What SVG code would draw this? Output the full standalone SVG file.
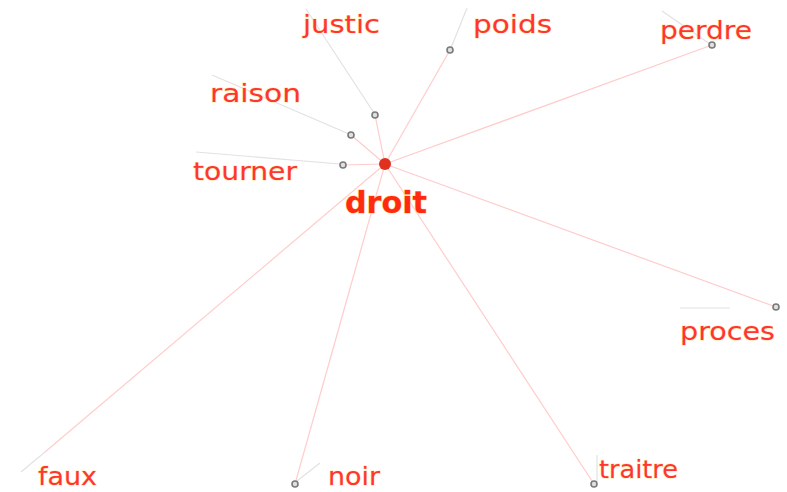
<svg xmlns="http://www.w3.org/2000/svg" width="787" height="492" viewBox="0 0 787 492">
<style>
.bg{fill:#ffffff}
.e{stroke:#ffcccc;stroke-width:1.2;fill:none}
.g{stroke:#e2e2e2;stroke-width:1.2;fill:none}
.n{fill:#e0e0e0;stroke:#7a7a7a;stroke-width:1.6}
.lbl{font-family:"DejaVu Sans","Liberation Sans",sans-serif;font-size:25px;fill:#ff3535;stroke:#ffe6a0;stroke-width:1;paint-order:stroke}
.main{font-family:"DejaVu Sans","Liberation Sans",sans-serif;font-size:30px;font-weight:bold;fill:#ff2a10;stroke:#ffd080;stroke-width:1;paint-order:stroke}
</style>
<rect class="bg" x="0" y="0" width="787" height="492"/>
<g id="connectors">
<line class="e" x1="385" y1="164" x2="375" y2="115"/>
<line class="e" x1="385" y1="164" x2="351" y2="135"/>
<line class="e" x1="385" y1="164" x2="343" y2="165"/>
<line class="e" x1="385" y1="164" x2="450" y2="50"/>
<line class="e" x1="385" y1="164" x2="712" y2="45"/>
<line class="e" x1="385" y1="164" x2="776" y2="307"/>
<line class="e" x1="385" y1="164" x2="45" y2="452"/>
<line class="e" x1="385" y1="164" x2="295" y2="484"/>
<line class="e" x1="385" y1="164" x2="594" y2="484"/>
<line class="g" x1="306" y1="9" x2="374" y2="113"/>
<line class="g" x1="212" y1="75" x2="349" y2="134"/>
<line class="g" x1="196" y1="152" x2="340" y2="164"/>
<line class="g" x1="467" y1="8" x2="451" y2="48"/>
<line class="g" x1="662" y1="11" x2="710" y2="44"/>
<line class="g" x1="680" y1="308" x2="730" y2="308"/>
<line class="g" x1="45" y1="452" x2="21" y2="472"/>
<line class="g" x1="320" y1="463" x2="297" y2="481"/>
<line class="g" x1="597" y1="455" x2="597" y2="482"/>
</g>
<g id="droit">
<circle cx="385" cy="164" r="6" fill="#e03020"/>
<text class="main" x="345" y="213" textLength="82" lengthAdjust="spacingAndGlyphs">droit</text>
</g>
<g id="justic">
<circle class="n" cx="375" cy="115" r="3"/>
<text class="lbl" x="303" y="33" textLength="77" lengthAdjust="spacingAndGlyphs">justic</text>
</g>
<g id="raison">
<circle class="n" cx="351" cy="135" r="3"/>
<text class="lbl" x="210" y="102" textLength="91" lengthAdjust="spacingAndGlyphs">raison</text>
</g>
<g id="tourner">
<circle class="n" cx="343" cy="165" r="3"/>
<text class="lbl" x="193" y="180" textLength="104" lengthAdjust="spacingAndGlyphs">tourner</text>
</g>
<g id="poids">
<circle class="n" cx="450" cy="50" r="3"/>
<text class="lbl" x="473" y="33" textLength="79" lengthAdjust="spacingAndGlyphs">poids</text>
</g>
<g id="perdre">
<circle class="n" cx="712" cy="45" r="3"/>
<text class="lbl" x="660" y="39" textLength="92" lengthAdjust="spacingAndGlyphs">perdre</text>
</g>
<g id="proces">
<circle class="n" cx="776" cy="307" r="3"/>
<text class="lbl" x="680" y="340" textLength="95" lengthAdjust="spacingAndGlyphs">proces</text>
</g>
<g id="faux">
<text class="lbl" x="38" y="485" textLength="59" lengthAdjust="spacingAndGlyphs">faux</text>
</g>
<g id="noir">
<circle class="n" cx="295" cy="484" r="3"/>
<text class="lbl" x="328" y="485" textLength="52" lengthAdjust="spacingAndGlyphs">noir</text>
</g>
<g id="traitre">
<circle class="n" cx="594" cy="484" r="3"/>
<text class="lbl" x="599" y="478" textLength="79" lengthAdjust="spacingAndGlyphs">traitre</text>
</g>
</svg>
